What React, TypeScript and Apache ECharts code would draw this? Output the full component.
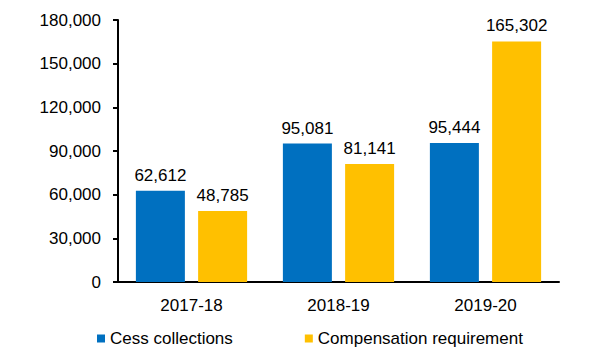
import React, { useEffect, useRef } from "react";
import * as echarts from "echarts";

const categories = ["2017-18", "2018-19", "2019-20"];
const cessCollections = [62612, 95081, 95444];
const compensationRequirement = [48785, 81141, 165302];
const seriesNames = ["Cess collections", "Compensation requirement"];

const FONT = "'Liberation Sans Narrow', 'Arial Narrow', 'Liberation Sans', Arial, sans-serif";
const fmt = (v: number) => v.toLocaleString("en-US");

export default function App() {
  const ref = useRef<HTMLDivElement>(null);
  useEffect(() => {
    document.body.style.margin = "0";
    const chart = echarts.init(ref.current!, null, { renderer: "svg" });
    chart.setOption({
      animation: false,
      backgroundColor: "#ffffff",
      textStyle: { fontFamily: FONT },
      grid: { left: 118, top: 20, width: 441, height: 262, containLabel: false },
      legend: {
        data: seriesNames,
        left: 92,
        top: 325,
        icon: "rect",
        itemWidth: 8,
        itemHeight: 8,
        itemGap: 72,
        textStyle: { fontFamily: FONT, fontSize: 17, color: "#000" },
      },
      xAxis: {
        type: "category",
        data: categories,
        axisLine: { lineStyle: { color: "#000", width: 2 } },
        axisTick: { show: false },
        axisLabel: { color: "#000", fontSize: 17, margin: 15, fontFamily: FONT },
      },
      yAxis: {
        type: "value",
        min: 0,
        max: 180000,
        interval: 30000,
        splitLine: { show: false },
        axisLine: { show: true, lineStyle: { color: "#000", width: 2 } },
        axisTick: { show: true, length: 5, lineStyle: { color: "#000", width: 2 } },
        axisLabel: { color: "#000", fontSize: 17, margin: 17, fontFamily: FONT, formatter: (v: number) => fmt(v) },
      },
      series: [
        {
          name: seriesNames[0],
          type: "bar",
          data: cessCollections,
          barWidth: 49,
          barGap: "27%",
          itemStyle: { color: "#0070C0" },
          label: { show: true, position: "top", distance: 7, color: "#000", fontSize: 17, fontFamily: FONT, formatter: (p: any) => fmt(p.value) },
        },
        {
          name: seriesNames[1],
          type: "bar",
          data: compensationRequirement,
          barWidth: 49,
          itemStyle: { color: "#FFC000" },
          label: { show: true, position: "top", distance: 7, color: "#000", fontSize: 17, fontFamily: FONT, formatter: (p: any) => fmt(p.value) },
        },
      ],
    });
    return () => chart.dispose();
  }, []);
  return <div ref={ref} style={{ width: 591, height: 354 }} />;
}
